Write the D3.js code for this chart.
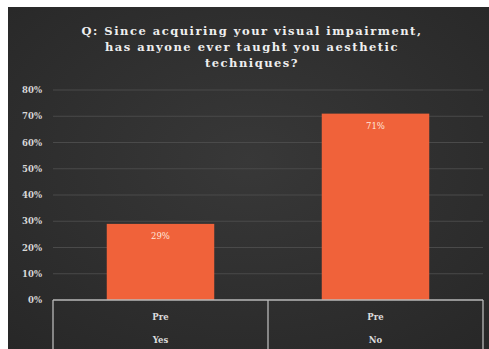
<!DOCTYPE html>
<html>
<head>
<meta charset="utf-8">
<script src="https://cdn.jsdelivr.net/npm/d3@7"></script>
<style>
  html, body { margin: 0; padding: 0; background: #fff; }
  svg { display: block; }
</style>
</head>
<body>
<svg id="chart" width="489" height="349"></svg>
<script>
// Survey answers and their shares
const titleLines = [
  "Q: Since acquiring your visual impairment,",
  "has anyone ever taught you aesthetic",
  "techniques?"
];
const groupLabel = "Pre";
const answers = ["Yes", "No"];
const shares = [0.29, 0.71];
const yTicks = [0, 0.1, 0.2, 0.3, 0.4, 0.5, 0.6, 0.7, 0.8];

const svg = d3.select("#chart");
const W = 489, H = 349;
const panel = { x: 8, y: 7 };
const plot = { left: 53, right: 483, top: 90, bottom: 300 };

// Dark panel with a soft radial glow
const defs = svg.append("defs");
const grad = defs.append("radialGradient")
  .attr("id", "bg").attr("cx", "50%").attr("cy", "45%").attr("r", "80%");
grad.append("stop").attr("offset", "0%").attr("stop-color", "#383838");
grad.append("stop").attr("offset", "100%").attr("stop-color", "#262626");

svg.append("rect")
  .attr("x", panel.x).attr("y", panel.y)
  .attr("width", W - panel.x).attr("height", H - panel.y)
  .attr("fill", "url(#bg)");

// Title
svg.append("g").selectAll("text")
  .data(titleLines).join("text")
  .attr("x", 252).attr("y", (d, i) => 35 + i * 16)
  .attr("text-anchor", "middle")
  .attr("font-family", "DejaVu Serif")
  .attr("font-weight", "bold")
  .attr("font-size", 11.5)
  .attr("letter-spacing", 1.5)
  .attr("fill", "#eeeeee")
  .text(d => d);

// Scales
const x = d3.scaleBand().domain(answers)
  .range([plot.left, plot.right]).paddingInner(0.5).paddingOuter(0.25);
const xGroup = d3.scaleBand().domain(answers).range([plot.left, plot.right]);
const y = d3.scaleLinear().domain([0, 0.8]).range([plot.bottom, plot.top]);

// Gridlines
svg.append("g").selectAll("line")
  .data(yTicks.filter(t => t > 0)).join("line")
  .attr("x1", plot.left).attr("x2", plot.right)
  .attr("y1", d => y(d)).attr("y2", d => y(d))
  .attr("stroke", "#4a4a4a").attr("stroke-width", 1);

// Y axis labels
const yAxis = d3.axisLeft(y).tickValues(yTicks).tickFormat(d3.format(".0%")).tickSize(0).tickPadding(11);
const gy = svg.append("g").attr("transform", `translate(${plot.left},0)`).call(yAxis);
gy.select(".domain").remove();
gy.selectAll("text")
  .attr("font-family", "DejaVu Serif").attr("font-weight", "bold")
  .attr("font-size", 8.5).attr("fill", "#d8d8d8");

// Bars
svg.append("g").selectAll("rect")
  .data(answers).join("rect")
  .attr("x", d => x(d)).attr("width", x.bandwidth())
  .attr("y", (d, i) => y(shares[i]))
  .attr("height", (d, i) => y(0) - y(shares[i]))
  .attr("fill", "#f0623a");

// Value labels inside the bars
svg.append("g").selectAll("text")
  .data(answers).join("text")
  .attr("x", d => x(d) + x.bandwidth() / 2)
  .attr("y", (d, i) => y(shares[i]) + 15)
  .attr("text-anchor", "middle")
  .attr("font-family", "DejaVu Serif")
  .attr("font-size", 8.5)
  .attr("fill", "#ffe8dc")
  .text((d, i) => d3.format(".0%")(shares[i]));

// Multi-level category axis frame
const frame = svg.append("g").attr("stroke", "#b8b8b8").attr("stroke-width", 1.3);
frame.append("line")
  .attr("x1", plot.left).attr("x2", plot.right)
  .attr("y1", plot.bottom).attr("y2", plot.bottom);
const edges = [plot.left].concat(answers.map(a => xGroup(a) + xGroup.bandwidth()));
frame.selectAll("line.edge")
  .data(edges).join("line").attr("class", "edge")
  .attr("x1", d => d).attr("x2", d => d)
  .attr("y1", plot.bottom).attr("y2", H);

// Category labels
const cat = svg.append("g")
  .attr("font-family", "DejaVu Serif").attr("font-weight", "bold")
  .attr("font-size", 8.5).attr("fill", "#dcdcdc").attr("text-anchor", "middle");
cat.selectAll("text.grp")
  .data(answers).join("text").attr("class", "grp")
  .attr("x", d => xGroup(d) + xGroup.bandwidth() / 2).attr("y", 320)
  .text(groupLabel);
cat.selectAll("text.ans")
  .data(answers).join("text").attr("class", "ans")
  .attr("x", d => xGroup(d) + xGroup.bandwidth() / 2).attr("y", 343)
  .text(d => d);
</script>
</body>
</html>
